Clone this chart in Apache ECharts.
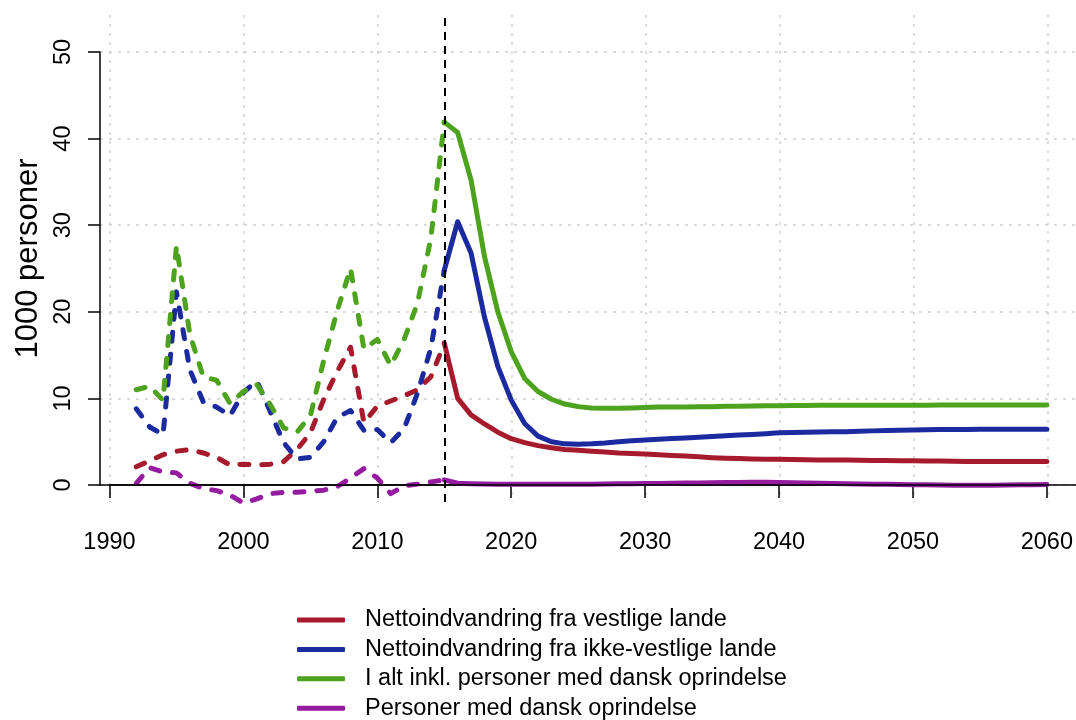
<!DOCTYPE html>
<html><head><meta charset="utf-8">
<script src="https://cdn.jsdelivr.net/npm/echarts@6/dist/echarts.min.js"></script>
<style>html,body{margin:0;padding:0;background:#fff}#chart{width:1076px;height:720px}</style>
</head><body><div id="chart"></div>
<script>
// ---------- data ----------
const seriesNames = [
  'Nettoindvandring fra vestlige lande',
  'Nettoindvandring fra ikke-vestlige lande',
  'I alt inkl. personer med dansk oprindelse',
  'Personer med dansk oprindelse'
];
const seriesColors = ['#A51B2D', '#1B2A9F', '#4DA21E', '#951CA0'];

const histYears = [1992,1993,1994,1995,1996,1997,1998,1999,2000,2001,2002,2003,2004,2005,2006,2007,2008,2009,2010,2011,2012,2013,2014,2015];
const histVestlige = [2.1,2.8,3.5,3.9,4.1,3.7,3.2,2.3,2.4,2.3,2.4,2.7,4.1,6.0,9.9,13.1,15.9,7.2,9.1,9.7,10.3,11.0,12.5,16.3];
const histIkkeVestlige = [8.8,6.7,5.8,22.3,13.3,9.6,9.0,8.0,10.7,12.0,8.5,4.9,3.0,3.2,5.0,7.8,8.6,6.3,6.4,4.9,6.5,10.6,15.8,24.8];
const histTotal = [11.0,11.4,9.8,27.6,17.4,12.5,12.1,9.4,10.8,11.6,9.3,6.6,6.1,8.0,14.4,20.1,25.0,15.7,16.8,13.8,16.8,21.0,28.5,41.9];
const histDansk = [0.2,2.0,1.5,1.4,0.2,-0.4,-0.65,-1.15,-2.1,-1.6,-1.0,-0.85,-0.85,-0.7,-0.6,-0.2,0.8,1.9,0.8,-1.0,-0.1,0.1,0.35,0.6];

const projYears = [2015,2016,2017,2018,2019,2020,2021,2022,2023,2024,2025,2026,2027,2028,2029,2030,2031,2032,2033,2034,2035,2036,2037,2038,2039,2040,2041,2042,2043,2044,2045,2046,2047,2048,2049,2050,2051,2052,2053,2054,2055,2056,2057,2058,2059,2060];
const projVestlige = [16.4,10.0,8.1,7.05,6.1,5.35,4.9,4.55,4.3,4.1,4.0,3.9,3.8,3.7,3.64,3.58,3.5,3.42,3.35,3.25,3.16,3.1,3.05,3.0,2.98,2.96,2.94,2.92,2.9,2.89,2.88,2.86,2.84,2.82,2.81,2.8,2.78,2.76,2.73,2.71,2.7,2.7,2.71,2.71,2.72,2.72];
const projIkkeVestlige = [24.8,30.4,26.8,19.4,13.7,9.8,7.1,5.65,5.0,4.75,4.7,4.75,4.85,5.0,5.1,5.2,5.28,5.36,5.44,5.52,5.6,5.68,5.76,5.84,5.93,6.02,6.06,6.09,6.12,6.14,6.16,6.2,6.25,6.3,6.33,6.35,6.38,6.4,6.42,6.42,6.43,6.43,6.43,6.43,6.43,6.43];
const projTotal = [41.9,40.7,35.2,26.4,20.0,15.4,12.3,10.8,9.9,9.35,9.05,8.9,8.85,8.85,8.9,8.95,9.0,9.0,9.0,9.05,9.05,9.1,9.1,9.12,9.14,9.15,9.17,9.18,9.2,9.2,9.2,9.2,9.21,9.21,9.22,9.22,9.22,9.23,9.23,9.23,9.24,9.24,9.24,9.25,9.25,9.25];
const projDansk = [0.6,0.2,0.15,0.12,0.1,0.1,0.1,0.1,0.1,0.1,0.1,0.1,0.12,0.13,0.15,0.16,0.18,0.2,0.22,0.24,0.26,0.28,0.3,0.32,0.32,0.3,0.27,0.24,0.2,0.17,0.14,0.12,0.1,0.08,0.06,0.04,0.02,0.0,-0.02,-0.03,-0.03,-0.02,0.0,0.02,0.04,0.05];

const xTicks = [1990,2000,2010,2020,2030,2040,2050,2060];
const yTicks = [0,10,20,30,40,50];
const forecastStart = 2015;
const yTitle = '1000 personer';

// ---------- layout ----------
const W = 1076, H = 720;
const main = {left: 109.5, right: 28, top: 52, bottom: 235};
const plot = {left: 100, right: 0, top: 15, bottom: 218};
const xMin = xTicks[0], xMax = xTicks[xTicks.length-1];
const yMin = yTicks[0], yMax = yTicks[yTicks.length-1];
const pxX = (W - main.left - main.right) / (xMax - xMin);
const pxY = (H - main.top - main.bottom) / (yMax - yMin);
const px1Min = xMin - (main.left - plot.left) / pxX;
const px1Max = xMax + (main.right - plot.right) / pxX;
const py1Min = yMin - ((H - plot.bottom) - (H - main.bottom)) / pxY;
const py1Max = yMax + (main.top - plot.top) / pxY;

const FONT = '"Liberation Sans", Arial, sans-serif';

function pairs(xs, ys) { return xs.map((x, i) => [x, ys[i]]); }
const histSets = [histVestlige, histIkkeVestlige, histTotal, histDansk];
const projSets = [projVestlige, projIkkeVestlige, projTotal, projDansk];

const series = [{
  type: 'line', xAxisIndex: 1, yAxisIndex: 1, data: [], z: 1, silent: true,
  markLine: {
    silent: true, symbol: ['none','none'], label: {show: false}, animation: false,
    emphasis: {disabled: true},
    data: [
      {yAxis: 0, lineStyle: {color: '#000', width: 1.5, type: 'solid'}},
      {xAxis: forecastStart, lineStyle: {color: '#000', width: 2, type: [8,6]}}
    ]
  }
}];
seriesNames.forEach((name, i) => {
  series.push({
    name, type: 'line', xAxisIndex: 0, yAxisIndex: 0, clip: false, z: 3,
    symbol: 'none', silent: true, color: seriesColors[i],
    data: pairs(histYears, histSets[i]),
    lineStyle: {width: 5, type: [9,13], cap: 'round', join: 'round', color: seriesColors[i]}
  });
  series.push({
    name, type: 'line', xAxisIndex: 0, yAxisIndex: 0, clip: false, z: 3,
    symbol: 'none', silent: true, color: seriesColors[i],
    data: pairs(projYears, projSets[i]),
    lineStyle: {width: 5, type: 'solid', cap: 'round', join: 'round', color: seriesColors[i]}
  });
});

const chart = echarts.init(document.getElementById('chart'), null, {renderer: 'canvas'});
chart.setOption({
  animation: false,
  backgroundColor: '#fff',
  textStyle: {fontFamily: FONT},
  grid: [
    {left: main.left, right: main.right, top: main.top, bottom: main.bottom},
    {left: plot.left, right: plot.right, top: plot.top, bottom: plot.bottom}
  ],
  xAxis: [
    {type: 'value', gridIndex: 0, min: xMin, max: xMax, interval: 10, offset: 17,
     axisLine: {show: true, lineStyle: {color: '#000', width: 1.5}},
     axisTick: {show: true, inside: false, length: 13, lineStyle: {color: '#000', width: 1.5}},
     axisLabel: {color: '#000', fontSize: 23.5, fontFamily: FONT, margin: 29, formatter: v => String(v)},
     splitLine: {show: false}},
    {type: 'value', gridIndex: 1, min: px1Min, max: px1Max,
     axisLine: {show: false}, axisLabel: {show: false},
     axisTick: {show: false, customValues: xTicks},
     splitLine: {show: true, lineStyle: {color: '#cfcfcf', width: 1.5, type: [3,6]}}}
  ],
  yAxis: [
    {type: 'value', gridIndex: 0, min: yMin, max: yMax, interval: 10, offset: 9.5,
     axisLine: {show: true, lineStyle: {color: '#000', width: 1.5}},
     axisTick: {show: true, inside: false, length: 12, lineStyle: {color: '#000', width: 1.5}},
     axisLabel: {color: '#000', fontSize: 23.5, fontFamily: FONT, rotate: 90, margin: 24, formatter: v => String(v)},
     splitLine: {show: false}},
    {type: 'value', gridIndex: 1, min: py1Min, max: py1Max,
     name: yTitle, nameLocation: 'middle', nameRotate: 90, nameGap: 56,
     nameTextStyle: {color: '#000', fontSize: 31, fontFamily: FONT},
     axisLine: {show: false}, axisLabel: {show: false},
     axisTick: {show: false, customValues: yTicks},
     splitLine: {show: true, lineStyle: {color: '#cfcfcf', width: 1.5, type: [3,6]}}}
  ],
  legend: {
    data: seriesNames, orient: 'vertical', left: 297, top: 608, height: 150, padding: 0,
    icon: 'roundRect', itemWidth: 48, itemHeight: 5, itemGap: 5.4,
    selectedMode: false,
    textStyle: {color: '#000', fontSize: 23.5, fontFamily: FONT, lineHeight: 24, padding: [0,0,0,15]}
  },
  series
});
</script></body></html>
